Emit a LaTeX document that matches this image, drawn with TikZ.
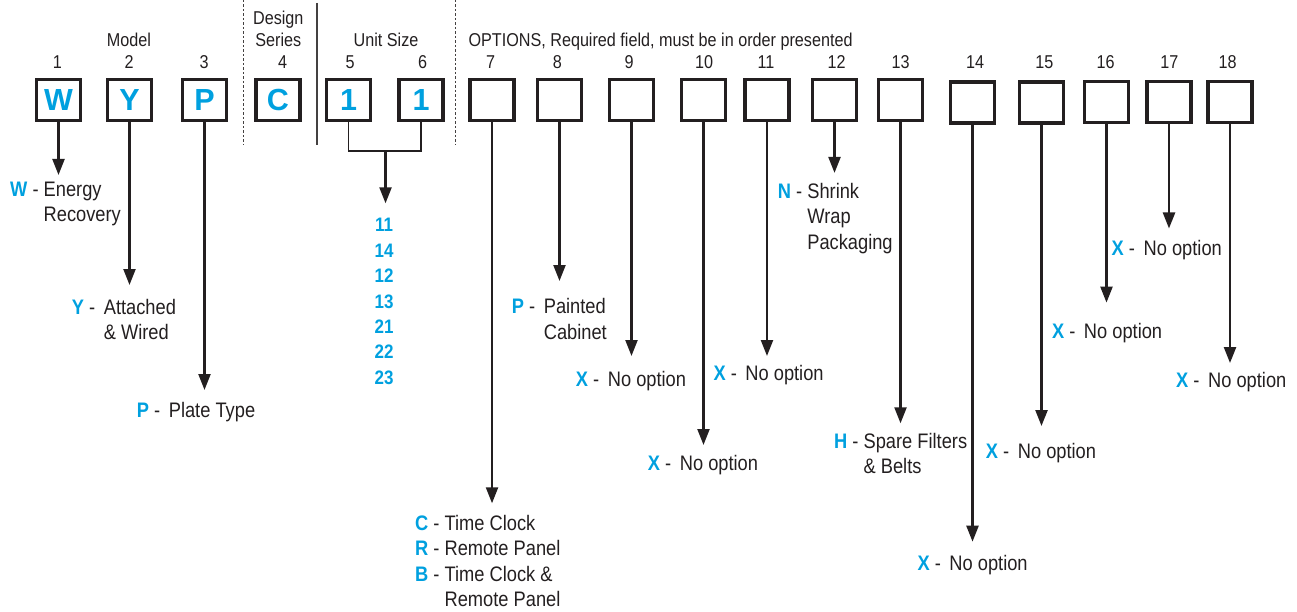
\documentclass[tikz,border=0pt]{standalone}
\usepackage{fontspec}
\setmainfont{Liberation Sans}[FakeStretch=0.87]
\newfontfamily\boxfont{Liberation Sans}
\usetikzlibrary{arrows.meta,positioning}

\definecolor{codeblue}{RGB}{0,160,223}
\definecolor{ink}{RGB}{35,31,32}

% blue option letter followed by its dash
\newcommand{\optkey}[1]{\textcolor{codeblue}{\bfseries #1}\ -\ }
\newcommand{\optpad}[1]{\hphantom{\optkey{#1}}}

\begin{document}
\begin{tikzpicture}[x=1pt,y=-1pt,
  every node/.style={text=ink,inner sep=0pt},
  codebox/.style={draw=ink,line width=3.4pt,minimum width=43.7pt,minimum height=41pt,
    font=\boxfont\fontsize{30.5}{30}\selectfont\bfseries,text=codeblue},
  digit/.style={font=\fontsize{18.6}{22.3}\selectfont,anchor=base},
  choice/.style={font=\fontsize{21}{25.5}\selectfont,anchor=north west,align=left},
  stem/.style={draw=ink,line width=2.3pt,-{Triangle[width=12pt,length=16pt]}},
  divider/.style={draw=ink!85,line width=1pt}]
  \useasboundingbox (0,0) rectangle (1297,612);

  % group dividers
  \draw[divider,dash pattern=on 2.5pt off 2pt] (243,0) -- (243,145);
  \draw[divider,line width=1.3pt] (317,3) -- (317,145);
  \draw[divider,dash pattern=on 2.5pt off 2pt] (455,0) -- (455,145);

  % group headings
  \node[digit] (model) at (129,46.7) {Model};
  \node[digit,anchor=north,align=center] (design) at (278.3,11) {Design\\Series};
  \node[digit] (unitsize) at (386,46.7) {Unit Size};
  \node[digit,anchor=base west] (options) at (468.3,46.7)
    {OPTIONS, Required field, must be in order presented};

  % digit boxes
  \foreach \k/\x/\y/\c in {1/58.5/100/W, 2/129.5/100/Y, 3/204.5/100/P, 4/278/100/C,
      5/348.5/100/1, 6/421/100/1, 7/492/100/{}, 8/559.5/100/{}, 9/631.5/100/{},
      10/703.5/100/{}, 11/767/100/{}, 12/834.5/100/{}, 13/900.5/100/{},
      14/972.5/102.5/{}, 15/1041.5/102.5/{}, 16/1106.5/102/{}, 17/1169/102/{},
      18/1230/102/{}}
    \node[codebox] (b\k) at (\x,\y) {\c};

  % position numbers
  \foreach \k/\x in {1/57.3, 2/129, 3/204, 4/282.7, 5/350, 6/422.7, 7/490.7, 8/557.3,
      9/629, 10/704, 11/766, 12/836.7, 13/900.7, 14/975, 15/1044.3, 16/1105.7,
      17/1169.3, 18/1227.7}
    \node[digit] (n\k) at (\x,68.3) {\k};

  % arrows down to the choices
  \foreach \k/\tip in {1/175, 2/285, 3/390, 7/503.3, 8/281, 9/356, 10/445, 11/356,
      12/172.9, 13/423.3, 14/541.7, 15/426, 16/302.6, 17/228.5, 18/363} {
    \coordinate (t\k) at (b\k.south |- 0,\tip);
    \draw[stem] (b\k.south) -- (t\k);
  }

  % unit size bracket
  \coordinate (join) at (385.5,150.7);
  \coordinate (tsize) at (385.5,203.3);
  \draw[draw=ink,line width=1.8pt] (b5.south) |- (join) -| (b6.south);
  \draw[stem] (join) -- (tsize);
  \node[font=\fontsize{19.5}{25.4}\selectfont\bfseries,text=codeblue,align=center,
    anchor=north] (sizes) at (384,218.3) {11\\14\\12\\13\\21\\22\\23};

  % choices
  \node[choice] (o1) at (10,181.7) {\optkey{W}Energy\\\optpad{W}Recovery};
  \node[choice] (o2) at (71.7,299) {\optkey{Y}\,Attached\\\optpad{Y}\,\& Wired};
  \node[choice] (o3) at (136.7,401.7) {\optkey{P}\,Plate Type};
  \node[choice] (o7) at (415,515) {\optkey{C}Time Clock\\\optkey{R}Remote Panel\\
    \optkey{B}Time Clock \&\\\optpad{B}Remote Panel};
  \node[choice] (o8) at (511.7,298.3) {\optkey{P}\,Painted\\\optpad{P}\,Cabinet};
  \node[choice] (o9) at (575.7,370.7) {\optkey{X}\,No option};
  \node[choice] (o10) at (647.7,455) {\optkey{X}\,No option};
  \node[choice] (o11) at (713.3,365) {\optkey{X}\,No option};
  \node[choice] (o12) at (777.7,183) {\optkey{N}Shrink\\\optpad{N}Wrap\\\optpad{N}Packaging};
  \node[choice] (o13) at (834,432.7) {\optkey{H}Spare Filters\\\optpad{H}\& Belts};
  \node[choice] (o14) at (917.3,555) {\optkey{X}\,No option};
  \node[choice] (o15) at (985.7,443.3) {\optkey{X}\,No option};
  \node[choice] (o16) at (1051.8,323) {\optkey{X}\,No option};
  \node[choice] (o17) at (1111.5,240) {\optkey{X}\,No option};
  \node[choice] (o18) at (1176,371.7) {\optkey{X}\,No option};
\end{tikzpicture}
\end{document}
